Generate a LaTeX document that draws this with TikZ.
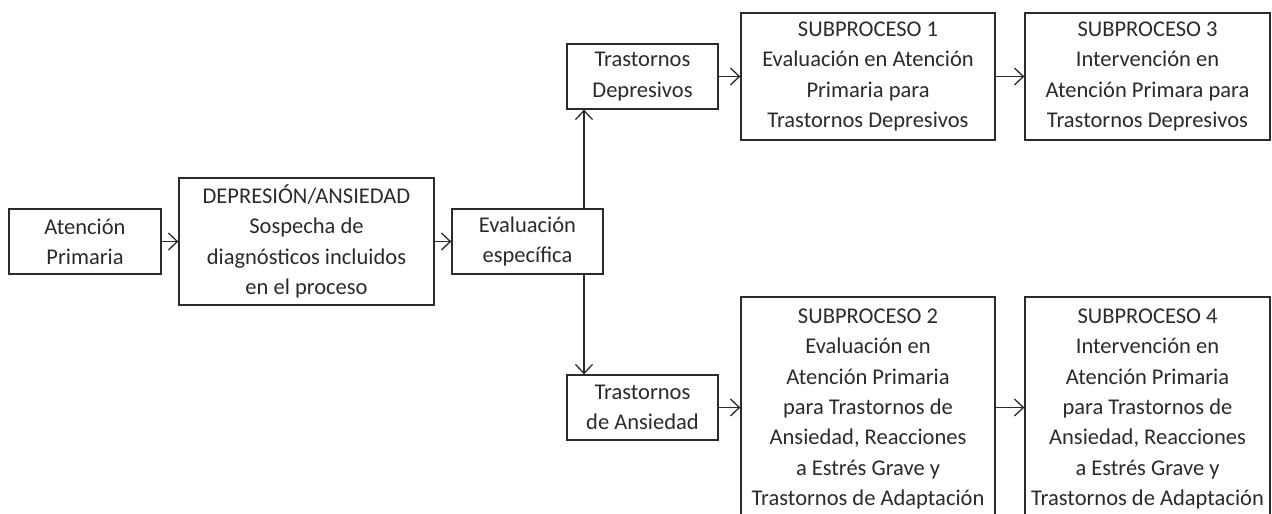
\documentclass[tikz,border=0pt]{standalone}
\usepackage{fontspec}
\setmainfont{Carlito}
\usetikzlibrary{arrows.meta}
\definecolor{ink}{HTML}{2B2B2B}
\begin{document}
\begin{tikzpicture}[x=1pt,y=-1pt,
  every node/.style={font=\fontsize{22.5}{30.3}\selectfont, text=ink, align=center},
  box/.style={draw=ink, line width=1.3pt, inner sep=0pt},
  flow/.style={draw=ink, line width=1.3pt, -{Straight Barb[length=9pt,width=17pt,line width=1.3pt]}}
]
\clip (0,0) rectangle (1272,514);
\fill[white] (0,0) rectangle (1272,514);

% main chain
\node[box, minimum width=152pt, minimum height=65pt] (ap)   at (85,241.5)   {Atención\\Primaria};
\node[box, minimum width=255pt, minimum height=127pt] (dep) at (306.5,241.5) {DEPRESIÓN/ANSIEDAD\\Sospecha de\\diagnósticos incluidos\\en el proceso};
\node[box, minimum width=151pt, minimum height=65pt] (eval) at (527.5,241.5) {Evaluación\\específica};

% branches
\node[box, minimum width=151pt, minimum height=65pt] (td) at (642.5,76.5)  {Trastornos\\Depresivos};
\node[box, minimum width=151pt, minimum height=65pt] (ta) at (642.5,407.5) {Trastornos\\de Ansiedad};

% subprocesses
\node[box, minimum width=254pt, minimum height=127pt] (s1) at (868,76.5)    {SUBPROCESO 1\\Evaluación en Atención\\Primaria para\\Trastornos Depresivos};
\node[box, minimum width=245pt, minimum height=127pt] (s3) at (1147.5,76.5) {SUBPROCESO 3\\Intervención en\\Atención Primara para\\Trastornos Depresivos};
\node[box, minimum width=254pt, minimum height=224pt] (s2) at (868,409)     {SUBPROCESO 2\\Evaluación en\\Atención Primaria\\para Trastornos de\\Ansiedad, Reacciones\\a Estrés Grave y\\Trastornos de Adaptación};
\node[box, minimum width=245pt, minimum height=224pt] (s4) at (1147.5,409)  {SUBPROCESO 4\\Intervención en\\Atención Primaria\\para Trastornos de\\Ansiedad, Reacciones\\a Estrés Grave y\\Trastornos de Adaptación};

% split point of the vertical connector
\coordinate (vx) at (584,0);

% connectors
\draw[flow] (ap) -- (dep);
\draw[flow] (dep) -- (eval);
\draw[flow] (eval.north -| vx) -- (td.south -| vx);
\draw[flow] (eval.south -| vx) -- (ta.north -| vx);
\draw[flow] (td) -- (s1);
\draw[flow] (s1) -- (s3);
\draw[flow] (ta) -- (ta -| s2.west);
\draw[flow] (s2.east |- ta) -- (s4.west |- ta);
\end{tikzpicture}
\end{document}
